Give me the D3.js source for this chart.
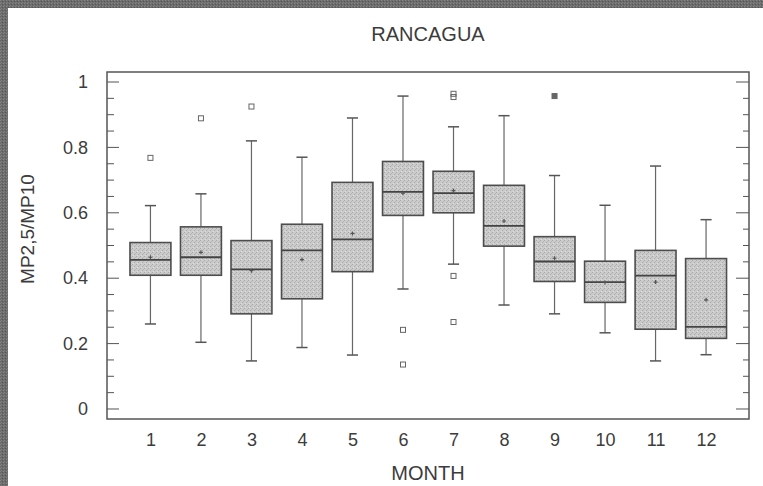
<!DOCTYPE html>
<html>
<head>
<meta charset="utf-8">
<script src="https://cdn.jsdelivr.net/npm/d3@7"></script>
<style>
  html, body { margin: 0; padding: 0; background: #fff; }
  svg { display: block; }
  text { font-family: "Liberation Sans", Arial, sans-serif; fill: #3c3c3c; }
</style>
</head>
<body>
<svg id="chart" width="763" height="486"></svg>
<script>
// ---- data ----
const months      = [1, 2, 3, 4, 5, 6, 7, 8, 9, 10, 11, 12];
const whiskerLow  = [0.260, 0.204, 0.147, 0.188, 0.165, 0.367, 0.443, 0.318, 0.291, 0.233, 0.147, 0.166];
const q1          = [0.409, 0.409, 0.291, 0.337, 0.420, 0.592, 0.600, 0.498, 0.390, 0.326, 0.244, 0.216];
const medians     = [0.456, 0.464, 0.427, 0.485, 0.519, 0.664, 0.660, 0.560, 0.451, 0.388, 0.408, 0.251];
const q3          = [0.509, 0.557, 0.515, 0.565, 0.693, 0.757, 0.727, 0.684, 0.527, 0.452, 0.485, 0.460];
const whiskerHigh = [0.622, 0.658, 0.820, 0.770, 0.890, 0.957, 0.863, 0.897, 0.714, 0.623, 0.743, 0.579];
const means       = [0.464, 0.479, 0.423, 0.457, 0.537, 0.660, 0.668, 0.575, 0.461, 0.387, 0.388, 0.334];
const outlierMonth = [1, 2, 3, 6, 6, 7, 7, 7, 7, 9];
const outlierValue = [0.768, 0.889, 0.925, 0.242, 0.136, 0.964, 0.954, 0.407, 0.266, 0.957];
const yTickValues = [0, 0.2, 0.4, 0.6, 0.8, 1];
const yTickLabels = ["0", "0.2", "0.4", "0.6", "0.8", "1"];
const title = "RANCAGUA";
const xTitle = "MONTH";
const yTitle = "MP2,5/MP10";

// ---- layout ----
const W = 763, H = 486;
const frame = { left: 107, right: 749, top: 72, bottom: 419 };
const svg = d3.select("#chart");

const x = d3.scaleLinear().domain([0.14, 12.85]).range([frame.left, frame.right]);
const y = d3.scaleLinear().domain([-0.0306, 1.0306]).range([frame.bottom, frame.top]);

const defs = svg.append("defs");
// stipple texture for boxes
const pat = defs.append("pattern").attr("id", "stip").attr("width", 4).attr("height", 4)
  .attr("patternUnits", "userSpaceOnUse");
pat.append("rect").attr("width", 4).attr("height", 4).attr("fill", "#cbcbcb");
[[0,0,"#a9a9a9"],[2,2,"#a9a9a9"],[1,3,"#dedede"],[3,1,"#b8b8b8"]].forEach(([a,b,c]) =>
  pat.append("rect").attr("x", a).attr("y", b).attr("width", 1).attr("height", 1).attr("fill", c));
// texture for scanned border
const pat2 = defs.append("pattern").attr("id", "grain").attr("width", 3).attr("height", 3)
  .attr("patternUnits", "userSpaceOnUse");
pat2.append("rect").attr("width", 3).attr("height", 3).attr("fill", "#6c6c6c");
[[0,0,"#858585"],[2,1,"#555555"],[1,2,"#7c7c7c"]].forEach(([a,b,c]) =>
  pat2.append("rect").attr("x", a).attr("y", b).attr("width", 1).attr("height", 1).attr("fill", c));

svg.append("rect").attr("width", W).attr("height", H).attr("fill", "#fff");
svg.append("rect").attr("x", 0).attr("y", 0).attr("width", W).attr("height", 8).attr("fill", "url(#grain)");
svg.append("rect").attr("x", 0).attr("y", 0).attr("width", 8).attr("height", H).attr("fill", "url(#grain)");

// ---- y axis ticks (inward, both sides) ----
const minor = d3.range(0, 1.0001, 0.05).map(v => +v.toFixed(2));
const tickG = svg.append("g").attr("stroke", "#555").attr("stroke-width", 1);
minor.forEach(v => {
  const isMajor = Math.abs(v * 5 - Math.round(v * 5)) < 1e-6;
  const len = isMajor ? 12 : 7;
  tickG.append("line").attr("x1", frame.left).attr("x2", frame.left + len)
    .attr("y1", y(v)).attr("y2", y(v));
  tickG.append("line").attr("x1", frame.right).attr("x2", frame.right - (isMajor ? 13 : 6))
    .attr("y1", y(v)).attr("y2", y(v));
});

// left axis labels via d3 axis
const yAxis = d3.axisLeft(y).tickValues(yTickValues)
  .tickFormat((d, i) => yTickLabels[i]).tickSize(0).tickPadding(19);
const gy = svg.append("g").attr("transform", `translate(${frame.left},0)`).call(yAxis);
gy.select(".domain").remove();
gy.selectAll("text").style("font-size", "18px").attr("fill", "#3c3c3c")
  .style("font-family", "Liberation Sans, Arial, sans-serif");

// bottom axis labels
const xAxis = d3.axisBottom(x).tickValues(months).tickFormat(d3.format("d")).tickSize(0).tickPadding(14);
const gx = svg.append("g").attr("transform", `translate(0,${frame.bottom})`).call(xAxis);
gx.select(".domain").remove();
gx.selectAll("text").style("font-size", "18px").attr("fill", "#3c3c3c")
  .style("font-family", "Liberation Sans, Arial, sans-serif");

// ---- boxes ----
const halfBox = 0.405, halfCap = 0.11;
const boxes = svg.append("g");
months.forEach((m, i) => {
  const g = boxes.append("g");
  // whiskers
  g.append("line").attr("x1", x(m)).attr("x2", x(m)).attr("y1", y(whiskerHigh[i])).attr("y2", y(q3[i]))
    .attr("stroke", "#666").attr("stroke-width", 1.2);
  g.append("line").attr("x1", x(m)).attr("x2", x(m)).attr("y1", y(q1[i])).attr("y2", y(whiskerLow[i]))
    .attr("stroke", "#666").attr("stroke-width", 1.2);
  [whiskerHigh[i], whiskerLow[i]].forEach(v =>
    g.append("line").attr("x1", x(m - halfCap)).attr("x2", x(m + halfCap)).attr("y1", y(v)).attr("y2", y(v))
      .attr("stroke", "#555").attr("stroke-width", 1.5));
  // box
  g.append("rect").attr("x", x(m - halfBox)).attr("y", y(q3[i]))
    .attr("width", x(m + halfBox) - x(m - halfBox)).attr("height", y(q1[i]) - y(q3[i]))
    .attr("fill", "url(#stip)").attr("stroke", "#4d4d4d").attr("stroke-width", 1.6);
  // median
  g.append("line").attr("x1", x(m - halfBox)).attr("x2", x(m + halfBox))
    .attr("y1", y(medians[i])).attr("y2", y(medians[i]))
    .attr("stroke", "#444").attr("stroke-width", 1.8);
  // mean marker
  g.append("path").attr("d", `M${x(m) - 2},${y(means[i])}h4M${x(m)},${y(means[i]) - 2}v4`)
    .attr("stroke", "#555").attr("stroke-width", 1.2);
});

// outliers
outlierMonth.forEach((m, i) => {
  svg.append("rect").attr("x", x(m) - 2.5).attr("y", y(outlierValue[i]) - 2.5)
    .attr("width", 5).attr("height", 5)
    .attr("fill", m === 9 ? "#666" : "none").attr("stroke", "#666").attr("stroke-width", 1);
});

// frame
svg.append("rect").attr("x", frame.left).attr("y", frame.top)
  .attr("width", frame.right - frame.left).attr("height", frame.bottom - frame.top)
  .attr("fill", "none").attr("stroke", "#555").attr("stroke-width", 1.5);

// titles
svg.append("text").attr("x", (frame.left + frame.right) / 2).attr("y", 41)
  .attr("text-anchor", "middle").style("font-size", "20px").text(title);
svg.append("text").attr("x", (frame.left + frame.right) / 2).attr("y", 480)
  .attr("text-anchor", "middle").style("font-size", "20px").text(xTitle);
svg.append("text").attr("transform", `translate(34,229) rotate(-90)`)
  .attr("text-anchor", "middle").style("font-size", "19px").text(yTitle);
</script>
</body>
</html>
